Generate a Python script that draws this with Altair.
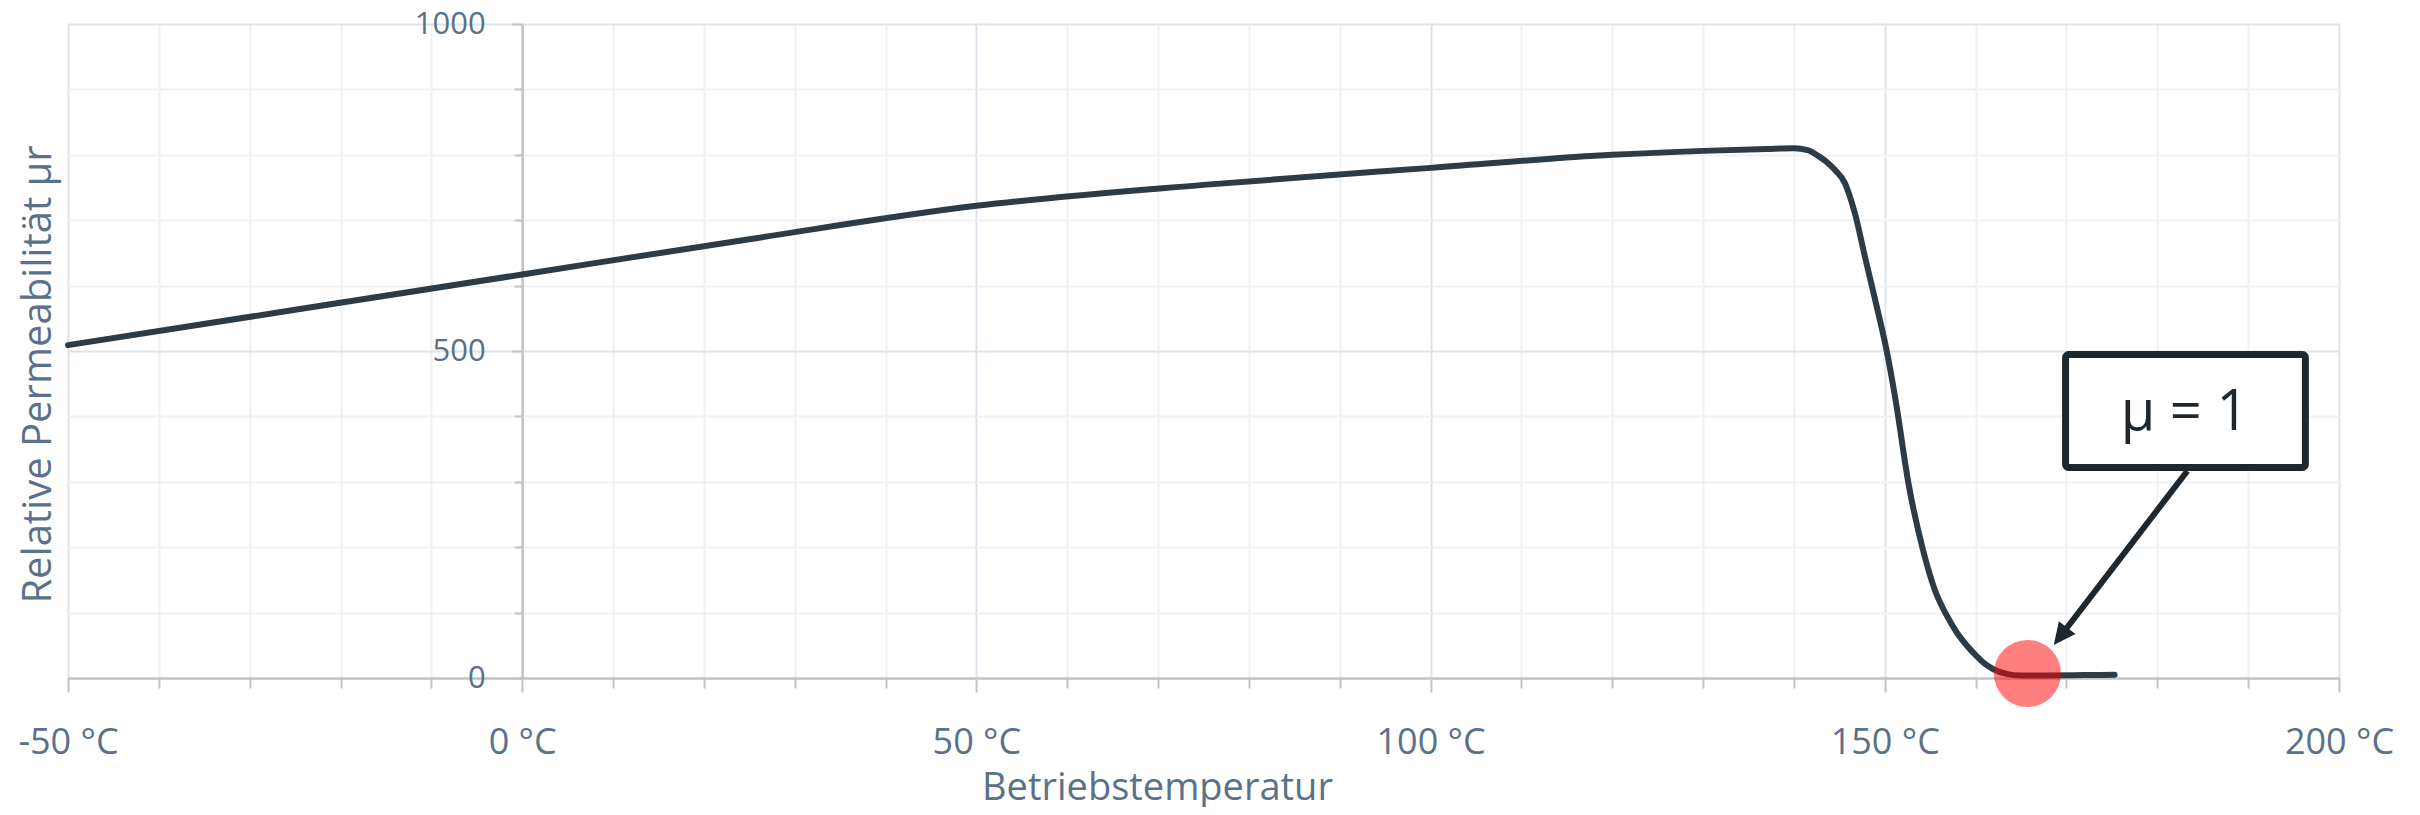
import math
import altair as alt
import pandas as pd

# ---- data ----
temps = [-50, -25, 0, 25, 50, 75, 100, 120, 130, 137, 140, 141.5, 142.7, 143.7,
         144.5, 145.6, 146.7, 147.9, 149.3, 150.2, 151.2, 152.6, 154.2, 155.5,
         156.8, 158, 159, 160, 161, 162, 163.5, 165, 168, 172, 175.3]
perm = [509, 563, 617, 671, 722, 754, 780, 800, 806, 809, 810, 807, 798, 788,
        777, 757, 711, 639, 557, 501, 424, 298, 196, 135,
        96, 68, 50, 35, 22, 13, 6, 4, 4, 4.5, 5]

marker_temp = [165.7]
marker_perm = [7.0]

box_x1 = [169.9]
box_x2 = [196.3]
box_y1 = [321.9]
box_y2 = [494.6]
note_text = ["μ = 1"]
note_x = [183.0]
note_y = [379.2]

arrow_from = [183.3, 316.5]
arrow_to = [168.6, 50.5]

x_ticks = list(range(-50, 201, 10))
y_ticks = list(range(0, 1001, 100))

# ---- layout constants ----
W, H = 2271, 654
PX_X = W / 250.0
PX_Y = H / 1000.0
HEAD = 22.0

dxp = (arrow_to[0] - arrow_from[0]) * PX_X
dyp = -(arrow_to[1] - arrow_from[1]) * PX_Y
L = math.hypot(dxp, dyp)
ux, uy = dxp / L, dyp / L
head_x = arrow_to[0] - (HEAD / 2) * ux / PX_X
head_y = arrow_to[1] + (HEAD / 2) * uy / PX_Y
head_angle = math.degrees(math.atan2(ux, -uy)) % 360

FONT = "Open Sans"
LABEL = "#5b7089"
AXISGRAY = "#c4c4c4"
MAJOR = "#dde3ec"
MINOR = "#eff1f4"
DARK = "#1f272e"

xscale = alt.Scale(domain=[-50, 200], nice=False, zero=False)
yscale = alt.Scale(domain=[0, 1000], nice=False)

xaxis = alt.Axis(
    values=x_ticks,
    labelExpr="datum.value % 50 === 0 ? datum.value + ' °C' : ''",
    labelOverlap=False, labelFlush=False,
    grid=True,
    gridColor={"condition": {"test": "datum.value % 50 === 0", "value": MAJOR}, "value": MINOR},
    gridWidth=2,
    tickSize={"condition": {"test": "datum.value % 50 === 0", "value": 14}, "value": 10},
    tickColor=AXISGRAY, tickWidth=2,
    domainColor=AXISGRAY, domainWidth=2.5,
    labelFont=FONT, labelFontSize=36, labelColor=LABEL, labelPadding=33,
    title="Betriebstemperatur", titleFont=FONT, titleFontSize=38,
    titleFontWeight="normal", titleColor=LABEL, titlePadding=9,
    titleX=1089,
)

yaxis = alt.Axis(
    values=y_ticks, format="d",
    labelExpr="datum.value % 500 === 0 ? datum.label : ''",
    labelOverlap=False, labelFlush=False,
    offset=-W * 50 / 250.0,
    grid=True,
    gridColor={"condition": {"test": "datum.value % 500 === 0", "value": MAJOR}, "value": MINOR},
    gridWidth=2,
    tickSize={"condition": {"test": "datum.value % 500 === 0", "value": 11}, "value": 8},
    tickColor=AXISGRAY, tickWidth=2,
    domainColor=AXISGRAY, domainWidth=2.5,
    labelFont=FONT, labelFontSize=31, labelColor=LABEL, labelPadding=26,
    title="Relative Permeabilität μr", titleFont=FONT, titleFontSize=40,
    titleFontWeight="normal", titleColor=LABEL,
    titleX=-484, titleY=350, titleBaseline="middle", titleAlign="center", titleAngle=270,
)

curve = pd.DataFrame({"t": temps, "mu": perm})
line = alt.Chart(curve).mark_line(
    color="#2e3a44", strokeWidth=6, interpolate="monotone", strokeCap="round"
).encode(
    x=alt.X("t:Q", scale=xscale, axis=xaxis),
    y=alt.Y("mu:Q", scale=yscale, axis=yaxis),
)

marker = alt.Chart(pd.DataFrame({"t": marker_temp, "mu": marker_perm})).mark_circle(
    size=4500, color="#ff0000", opacity=0.5
).encode(x="t:Q", y="mu:Q")

arrow = alt.Chart(pd.DataFrame({
    "x": [arrow_from[0]], "y": [arrow_from[1]], "x2": [head_x], "y2": [head_y]
})).mark_rule(color=DARK, strokeWidth=6).encode(x="x:Q", y="y:Q", x2="x2:Q", y2="y2:Q")

head = alt.Chart(pd.DataFrame({"x": [head_x], "y": [head_y]})).mark_point(
    shape="M0,-1L0.95,1L-0.95,1Z", size=HEAD * HEAD, filled=True,
    color=DARK, opacity=1, angle=head_angle
).encode(x="x:Q", y="y:Q")

box = alt.Chart(pd.DataFrame({"x": box_x1, "x2": box_x2, "y": box_y1, "y2": box_y2})).mark_rect(
    fill="white", stroke=DARK, strokeWidth=7, cornerRadius=3
).encode(x="x:Q", x2="x2:Q", y="y:Q", y2="y2:Q")

note = alt.Chart(pd.DataFrame({"x": note_x, "y": note_y, "txt": note_text})).mark_text(
    font=FONT, fontSize=56, color=DARK, align="center", baseline="alphabetic"
).encode(x="x:Q", y="y:Q", text="txt:N")

chart = alt.layer(line, marker, arrow, head, box, note).properties(
    width=W, height=H,
    autosize=alt.AutoSizeParams(type="none"),
    padding={"left": 60, "top": 16, "right": 70, "bottom": 129},
).configure_view(strokeWidth=0)

chart.save("out.html", embed_options={"renderer": "svg", "actions": False})
